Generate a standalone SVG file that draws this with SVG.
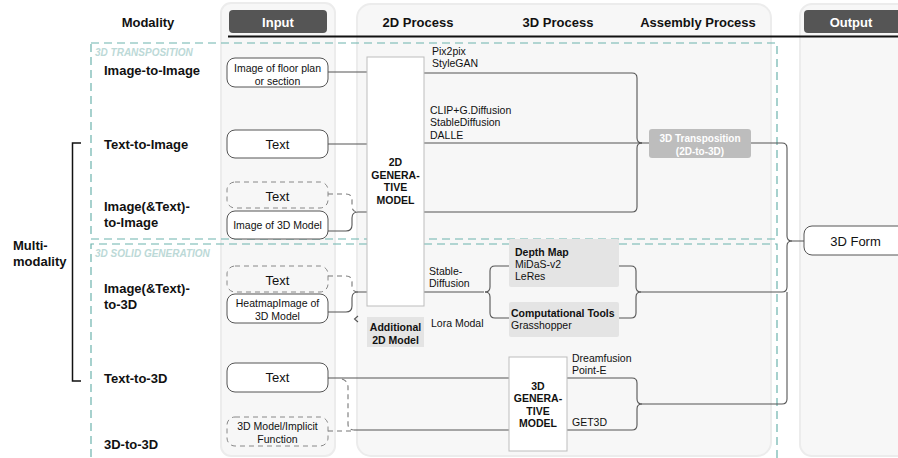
<svg xmlns="http://www.w3.org/2000/svg" width="898" height="458" viewBox="0 0 898 458">
<style>
.panel{fill:#f7f7f7;stroke:#ececec;stroke-width:2}
.tab{fill:#555}
.tabt{font:bold 13px "Liberation Sans",Arial,sans-serif;fill:#fff;text-anchor:middle}
.hdr{font:bold 13px "Liberation Sans",Arial,sans-serif;fill:#111;text-anchor:middle}
.mod{font:bold 13px "Liberation Sans",Arial,sans-serif;fill:#111}
.grp{fill:none;stroke:#6db3ad;stroke-width:1.2;stroke-dasharray:8 5}
.grpt{font:italic bold 10px "Liberation Sans",Arial,sans-serif;fill:#bcd9d7}
.box{fill:#fff;stroke:#555;stroke-width:1}
.dbox{fill:none;stroke:#888;stroke-width:1;stroke-dasharray:5 4}
.bt{font:10.5px "Liberation Sans",Arial,sans-serif;fill:#111;text-anchor:middle}
.bt13{font:13px "Liberation Sans",Arial,sans-serif;fill:#111;text-anchor:middle}
.lbl{font:10.5px "Liberation Sans",Arial,sans-serif;fill:#111}
.lblb{font:bold 10.5px "Liberation Sans",Arial,sans-serif;fill:#111}
.mdl{fill:#fff;stroke:#bdbdbd;stroke-width:1}
.mdlt{font:bold 10.5px "Liberation Sans",Arial,sans-serif;fill:#111;text-anchor:middle}
.gray{fill:#e4e4e4}
.ln{fill:none;stroke:#555;stroke-width:1.1}
.dl{fill:none;stroke:#777;stroke-width:1.1;stroke-dasharray:5 4}
</style>

<!-- panels -->
<rect class="panel" x="221" y="3" width="114" height="453" rx="10"/>
<rect class="panel" x="357" y="4" width="414" height="452" rx="14"/>
<rect class="panel" x="800" y="4" width="120" height="452" rx="12"/>

<!-- headers -->
<g id="headers">
<text class="hdr" x="148" y="27">Modality</text>
<rect class="tab" x="229" y="10" width="98" height="23" rx="4"/>
<text class="tabt" x="278" y="27">Input</text>
<text class="hdr" x="418" y="27">2D Process</text>
<text class="hdr" x="558" y="27">3D Process</text>
<text class="hdr" x="698" y="27">Assembly Process</text>
<rect class="tab" x="804" y="10" width="110" height="23" rx="4"/>
<text class="tabt" x="851" y="27">Output</text>
<line x1="228" y1="36.5" x2="898" y2="36.5" stroke="#111" stroke-width="2"/>
</g>

<!-- groups -->
<g id="group-transposition">
<rect class="grp" x="91" y="43" width="686" height="196"/>
<text class="grpt" x="95" y="56">3D TRANSPOSITION</text>
</g>
<g id="group-solid">
<path class="grp" d="M91,470 V244 H777 V470"/>
<text class="grpt" x="95" y="257">3D SOLID GENERATION</text>
</g>

<!-- modality labels -->
<g id="modalities">
<text class="mod" x="104" y="74.5">Image-to-Image</text>
<text class="mod" x="104" y="149">Text-to-Image</text>
<text class="mod" x="104" y="211">Image(&amp;Text)-</text>
<text class="mod" x="104" y="227">to-Image</text>
<text class="mod" x="104" y="293">Image(&amp;Text)-</text>
<text class="mod" x="104" y="309">to-3D</text>
<text class="mod" x="104" y="383">Text-to-3D</text>
<text class="mod" x="104" y="449">3D-to-3D</text>
<text class="mod" x="13" y="250">Multi-</text>
<text class="mod" x="13" y="266">modality</text>
<path d="M81,143 H72.5 V381 H81" fill="none" stroke="#111" stroke-width="1.5"/>
</g>

<!-- connectors -->
<g id="connectors">
<path class="ln" d="M328,72 H367"/>
<path class="ln" d="M328,144 H367"/>
<path class="dl" d="M328,194 H346 Q352,194 352,200 V206 Q352,212 358,212"/>
<path class="ln" d="M328,231 H346 Q352,231 352,225 V218 Q352,212 358,212 H367"/>
<path class="dl" d="M328,276 H346 Q352,276 352,282 V286 Q352,292 358,292"/>
<path class="ln" d="M328,312 H346 Q352,312 352,306 V298 Q352,292 358,292 H367"/>
<polyline class="ln" points="358,316 354.5,319 358,322"/>
<path class="ln" d="M328,378 H509"/>
<path class="dl" d="M342,379 Q348,381 348,387 V424 Q348,430 354,430"/>
<path class="dl" d="M328,431 H354"/>
<path class="ln" d="M354,430 H509"/>

<path class="ln" d="M424,73 H632 Q637,73 637,78 V138 Q637,143 642,143"/>
<path class="ln" d="M424,143 H649"/>
<path class="ln" d="M424,212 H632 Q637,212 637,207 V148 Q637,143 642,143"/>

<path class="ln" d="M424,292 H484"/>
<path class="ln" d="M509,266 H495 Q490,266 490,271 V287 Q490,292 485,292"/>
<path class="ln" d="M509,318 H495 Q490,318 490,313 V297 Q490,292 485,292"/>
<path class="ln" d="M619,266 H631 Q636,266 636,271 V287 Q636,292 641,292"/>
<path class="ln" d="M619,318 H631 Q636,318 636,313 V297 Q636,292 641,292"/>

<path class="ln" d="M567,378 H632 Q637,378 637,383 V399 Q637,404 642,404"/>
<path class="ln" d="M567,430 H632 Q637,430 637,425 V409 Q637,404 642,404"/>

<path class="ln" d="M751,143 H782 Q787,143 787,148 V236 Q787,241 792,241 H804"/>
<path class="ln" d="M641,292 H782 Q787,292 787,287 V246 Q787,241 792,241"/>
<path class="ln" d="M642,404 H782 Q787,404 787,399 V292"/>
</g>

<!-- input nodes -->
<g id="in-floorplan">
<rect class="box" x="227" y="58" width="101" height="29" rx="8"/>
<text class="bt" x="277.5" y="71.5">Image of floor plan</text>
<text class="bt" x="277.5" y="84.5">or section</text>
</g>
<g id="in-text1">
<rect class="box" x="227" y="130" width="101" height="28" rx="8"/>
<text class="bt13" x="277.5" y="148.5">Text</text>
</g>
<g id="in-text2">
<rect class="dbox" x="227" y="182" width="101" height="26" rx="8"/>
<text class="bt13" x="277.5" y="200.5">Text</text>
</g>
<g id="in-img3d">
<rect class="box" x="227" y="211" width="101" height="28" rx="8"/>
<text class="bt" x="277.5" y="229">Image of 3D Model</text>
</g>
<g id="in-text3">
<rect class="dbox" x="227" y="266" width="101" height="26" rx="8"/>
<text class="bt13" x="277.5" y="284.5">Text</text>
</g>
<g id="in-heatmap">
<rect class="box" x="227" y="294" width="101" height="29" rx="8"/>
<text class="bt" x="277.5" y="307">HeatmapImage of</text>
<text class="bt" x="277.5" y="320">3D Model</text>
</g>
<g id="in-text4">
<rect class="box" x="227" y="363" width="101" height="29" rx="8"/>
<text class="bt13" x="277.5" y="382">Text</text>
</g>
<g id="in-3dmodel">
<rect class="dbox" x="227" y="417" width="101" height="29" rx="8"/>
<text class="bt" x="277.5" y="430">3D Model/Implicit</text>
<text class="bt" x="277.5" y="442.5">Function</text>
</g>

<!-- process nodes -->
<g id="model-2d">
<rect class="mdl" x="367" y="57" width="57" height="249"/>
<text class="mdlt" x="395.5" y="166">2D</text>
<text class="mdlt" x="395.5" y="178.5">GENERA-</text>
<text class="mdlt" x="395.5" y="191">TIVE</text>
<text class="mdlt" x="395.5" y="203.5">MODEL</text>
</g>
<g id="additional-2d">
<rect class="gray" x="367" y="317" width="57" height="30"/>
<text class="mdlt" x="395.5" y="331">Additional</text>
<text class="mdlt" x="395.5" y="343.5">2D Model</text>
</g>
<g id="labels-2d">
<text class="lbl" x="432" y="55">Pix2pix</text>
<text class="lbl" x="432" y="67">StyleGAN</text>
<text class="lbl" x="430" y="114">CLIP+G.Diffusion</text>
<text class="lbl" x="430" y="126">StableDiffusion</text>
<text class="lbl" x="430" y="139">DALLE</text>
<text class="lbl" x="429" y="275">Stable-</text>
<text class="lbl" x="429" y="287">Diffusion</text>
<text class="lbl" x="431" y="327">Lora Modal</text>
</g>
<g id="depth-map">
<rect class="gray" x="509" y="239" width="110" height="48" rx="2"/>
<text class="lblb" x="515" y="256">Depth Map</text>
<text class="lbl" x="515" y="268">MiDaS-v2</text>
<text class="lbl" x="515" y="280">LeRes</text>
</g>
<g id="comp-tools">
<rect class="gray" x="509" y="302" width="110" height="35" rx="2"/>
<text class="lblb" x="511" y="317">Computational Tools</text>
<text class="lbl" x="511" y="329">Grasshopper</text>
</g>
<g id="model-3d">
<rect class="mdl" x="509" y="357" width="58" height="94"/>
<text class="mdlt" x="538" y="389.5">3D</text>
<text class="mdlt" x="538" y="402">GENERA-</text>
<text class="mdlt" x="538" y="414.5">TIVE</text>
<text class="mdlt" x="538" y="427">MODEL</text>
</g>
<g id="labels-3d">
<text class="lbl" x="572" y="361.5">Dreamfusion</text>
<text class="lbl" x="572" y="374">Point-E</text>
<text class="lbl" x="572" y="426">GET3D</text>
</g>
<g id="transposition">
<rect x="649" y="129" width="102" height="29" rx="3" fill="#bdbdbd"/>
<text x="700" y="141.5" text-anchor="middle" style="font:bold 10px 'Liberation Sans',Arial,sans-serif;fill:#fff">3D Transposition</text>
<text x="700" y="155" text-anchor="middle" style="font:bold 10px 'Liberation Sans',Arial,sans-serif;fill:#fff">(2D-to-3D)</text>
</g>
<g id="output-3dform">
<rect class="box" x="804" y="226" width="110" height="29" rx="8"/>
<text class="bt13" x="855.5" y="245.5">3D Form</text>
</g>
</svg>
